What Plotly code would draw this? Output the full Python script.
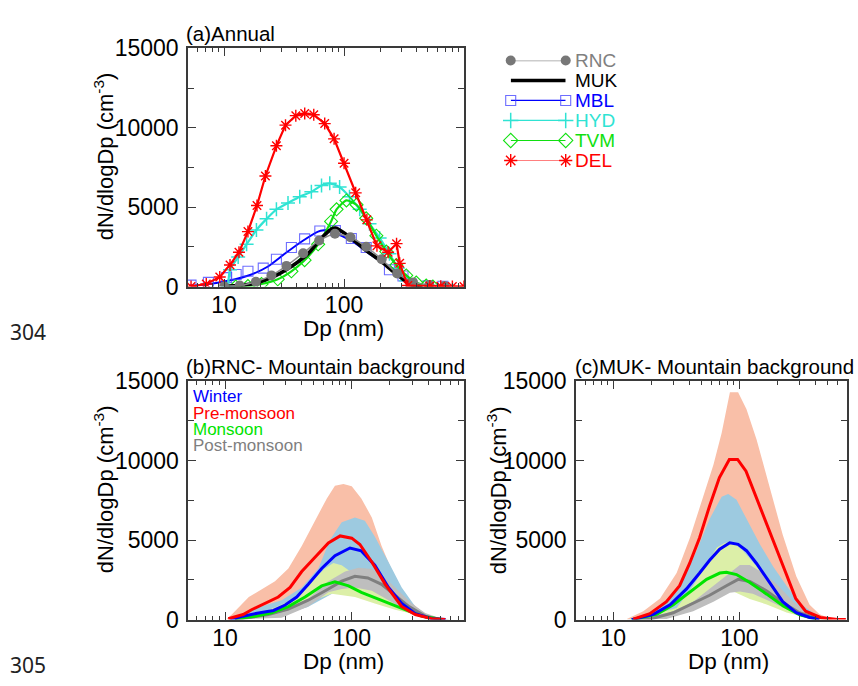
import math
import plotly.graph_objects as go

W, H = 858, 686
FONT = "Liberation Sans, Arial, Helvetica, sans-serif"
AXIS_COLOR = "#3a3a3a"

# ---------------- (a) Annual mean size distributions per site ----------------
RNC_DP = [10, 13.5, 18.4, 24.8, 33.1, 45.6, 62, 84, 113, 153, 206, 277, 376, 513, 689]
RNC_N = [20, 60, 300, 700, 1300, 2100, 2900, 3320, 3100, 2500, 1720, 820, 260, 90, 40]

MUK_DP = [10, 12, 16.9, 24.8, 36.4, 50.1, 64.9, 78.6, 85, 91.8, 119, 153, 198, 256, 310, 376, 450]
MUK_N = [0, 40, 160, 560, 1260, 2060, 3060, 3620, 3680, 3560, 2960, 2260, 1660, 960, 460, 60, 0]

MBL_DP = [5.2, 6.9, 10.8, 16.9, 23.2, 32, 44.1, 60.8, 76, 91.8, 119, 163, 225, 270, 310, 352, 420]
MBL_N = [60, 120, 360, 760, 1260, 2060, 2820, 3460, 3560, 3260, 2820, 2060, 1360, 950, 500, 160, 0]
MBL_PT_DP = [5.3, 7.4, 10.5, 12.6, 15.8, 21.2, 27.3, 36.4, 46.9, 62.8, 84.7, 115, 153, 239, 310, 363, 500, 667]
MBL_PT_N = [90, 260, 560, 760, 960, 1160, 1720, 2460, 3000, 3500, 3520, 3020, 2460, 1060, 660, 160, 40, 20]

HYD_DP = [10.8, 11.2, 13.1, 15.4, 18.6, 22.6, 27.3, 34.1, 42.7, 53.4, 64.9, 76, 91.8,
          111, 135, 163, 198, 239, 281, 330, 400]
HYD_N = [0, 1060, 1860, 2660, 3560, 4260, 4860, 5260, 5660, 5960, 6360, 6500, 6260,
         5660, 4860, 3960, 3060, 2060, 1160, 360, 0]

TVM_DP = [12.5, 15.8, 20.5, 28, 36.4, 46.9, 60.8, 78, 86.6, 104.7, 127, 153, 186, 225,
          273, 330, 400, 484, 550]
TVM_N = [0, 30, 156, 456, 960, 1656, 2658, 4100, 4860, 5420, 5150, 4300, 3200, 2200,
         1350, 700, 250, 60, 0]

DEL_DP = [5.3, 7.1, 9.2, 11.2, 13.3, 15.8, 18.8, 22.1, 27.3, 32.5, 39.6, 47, 55.9, 69,
          82.6, 100, 125, 155, 188, 233, 274, 291, 340, 519, 640, 800, 1000]
DEL_N = [0, 156, 600, 1360, 2160, 3460, 5100, 6960, 8860, 10160, 10760, 10900, 10820,
         10260, 9300, 7760, 5900, 4200, 2560, 2160, 2700, 1460, 60, 30, 20, 0, 0]

# ---------------- (b) RNC seasonal spectra: mean and spread ----------------
RNC_PRE_DP = [10.6, 13.9, 16.2, 20.7, 26.3, 32.6, 40.3, 51.3, 65.4, 81, 100, 116, 144, 184, 248, 317, 428, 547]
RNC_PRE = [60, 320, 620, 1020, 1420, 2020, 3020, 3920, 4820, 5260, 5120, 4720, 3620, 2220, 820, 320, 60, 0]
RNC_PRE_UP_DP = [10.2, 11.3, 15.4, 19.5, 24.8, 31.6, 40.3, 51.3, 63.6, 73.7, 86, 100, 119, 144, 172, 220, 283, 380, 513, 600]
RNC_PRE_UP = [0, 318, 1416, 1920, 2418, 3216, 4620, 6216, 7620, 8418, 8520, 8376, 7620, 6420, 4620, 2616, 1218, 318, 60, 0]
RNC_PRE_LO_DP = [10.2, 16, 25, 40, 63, 100, 160, 250, 400, 600]
RNC_PRE_LO = [0, 200, 500, 1200, 2000, 2300, 1500, 700, 100, 0]

RNC_WIN_DP = [11, 13.9, 18.4, 24.1, 29.8, 36.8, 45.4, 57.9, 73.7, 96.9, 119, 152, 195, 248, 317, 428, 550]
RNC_WIN = [0, 216, 420, 576, 918, 1416, 2220, 3216, 4020, 4500, 4320, 3420, 2016, 1020, 378, 60, 0]
RNC_WIN_UP_DP = [11, 17.3, 28, 40.3, 54.5, 67.4, 83.3, 106, 127, 152, 195, 248, 317, 405, 513, 600]
RNC_WIN_UP = [0, 720, 1218, 2016, 3216, 5016, 6120, 6420, 6216, 5220, 3618, 2016, 816, 216, 60, 0]
RNC_WIN_LO_DP = [11, 20, 30, 45, 65, 100, 150, 230, 350, 500]
RNC_WIN_LO = [0, 150, 350, 800, 1500, 2300, 1800, 800, 200, 0]

RNC_MON_DP = [12, 17.3, 23.3, 31.6, 42.8, 57.9, 73.7, 94.4, 119, 172, 248, 355, 513]
RNC_MON = [60, 216, 420, 816, 1416, 2118, 2376, 2118, 1716, 1218, 720, 216, 0]
RNC_MON_UP_DP = [12, 20.7, 33.6, 47.9, 61.5, 71.6, 83.3, 106, 152, 220, 317, 460, 600]
RNC_MON_UP = [0, 516, 1218, 2418, 3216, 3558, 3420, 2820, 2016, 1218, 516, 120, 0]
RNC_MON_LO_DP = [12, 25, 38, 51.3, 69.5, 106, 152, 220, 317, 460, 600]
RNC_MON_LO = [0, 300, 816, 1218, 1620, 1416, 1020, 618, 318, 60, 0]

RNC_POST_DP = [12, 15.4, 22, 31.6, 45.4, 65.4, 83.3, 106, 134, 172, 220, 283, 380, 513]
RNC_POST = [0, 120, 318, 660, 1218, 1920, 2418, 2718, 2616, 2220, 1518, 816, 216, 0]
RNC_POST_UP_DP = [12, 28, 45.4, 65.4, 88.6, 113, 144, 184, 234, 297, 380, 513, 600]
RNC_POST_UP = [0, 516, 1320, 2418, 3018, 3258, 3180, 2616, 1818, 1020, 420, 60, 0]
RNC_POST_LO_DP = [12, 28, 45.4, 65.4, 83.3, 106, 144, 195, 263, 355, 513]
RNC_POST_LO = [0, 120, 816, 1716, 1920, 2016, 1818, 1218, 618, 216, 0]

# ---------------- (c) MUK seasonal spectra: mean and spread ----------------
MUK_PRE_DP = [14.4, 19.5, 26.4, 33.6, 40.3, 48.3, 58, 69.5, 83.3, 96.9, 113, 135, 162, 195, 234, 280, 336, 403, 440, 600, 700]
MUK_PRE = [30, 372, 1128, 2130, 3528, 5130, 7128, 8928, 10070, 10070, 9330, 7728, 6132, 4530, 2928, 1332, 528, 228, 132, 0, 0]
MUK_PRE_UP_DP = [12.8, 17.3, 23.5, 31.8, 40.5, 51.7, 62.3, 72.4, 84.2, 97.8, 114, 137, 174, 221, 283, 361, 433, 550]
MUK_PRE_UP = [30, 528, 1332, 2928, 5130, 7728, 9732, 11730, 14300, 14300, 13230, 11328, 8328, 5328, 2730, 930, 330, 0]
MUK_PRE_LO_DP = [13, 20, 30, 45, 65, 90, 130, 200, 300, 450]
MUK_PRE_LO = [0, 200, 500, 1100, 2000, 2600, 2000, 900, 250, 0]

MUK_WIN_DP = [14, 20.8, 28.2, 38.1, 48.4, 58.1, 69.8, 84, 97.8, 114, 137, 174, 221, 283, 361, 433]
MUK_WIN = [0, 330, 930, 1932, 2928, 3732, 4428, 4830, 4728, 4332, 3528, 2328, 1128, 432, 132, 30]
MUK_WIN_UP_DP = [13, 17.3, 26.4, 36, 45.8, 58.1, 72.4, 81.6, 95, 114, 146, 186, 237, 302, 385, 433, 520]
MUK_WIN_UP = [0, 228, 1128, 2532, 4332, 6330, 7728, 7890, 7530, 6330, 4728, 3330, 2130, 1032, 432, 228, 0]
MUK_WIN_LO_DP = [14, 20, 30, 45, 65, 90, 130, 200, 300, 450]
MUK_WIN_LO = [0, 150, 450, 1000, 1800, 2300, 1900, 900, 250, 0]

MUK_MON_DP = [14, 22.1, 29.9, 40.5, 55, 70, 79, 95, 121, 165, 223, 302, 410]
MUK_MON = [0, 330, 930, 1728, 2532, 2928, 2970, 2832, 2328, 1600, 850, 300, 30]
MUK_MON_UP_DP = [15, 31.8, 43, 55, 66.3, 77.1, 89.6, 107, 137, 186, 268, 385, 500]
MUK_MON_UP = [0, 732, 2130, 3528, 4530, 4830, 4830, 4332, 3330, 2130, 930, 228, 0]
MUK_MON_LO_DP = [15, 30, 48.4, 69.8, 89.6, 121, 165, 237, 340, 450]
MUK_MON_LO = [0, 500, 1332, 1632, 1770, 1300, 950, 450, 120, 0]

MUK_POST_DP = [15, 19.5, 29.9, 43, 58.1, 79, 97.8, 121, 165, 223, 302, 361, 433]
MUK_POST = [0, 30, 432, 1032, 1530, 2130, 2532, 2400, 1800, 1050, 420, 228, 30]
MUK_POST_UP_DP = [15, 26.4, 43, 62.3, 84.2, 101, 121, 154, 198, 268, 361, 450]
MUK_POST_UP = [0, 330, 1128, 2130, 2928, 3432, 3432, 2928, 2232, 1128, 330, 0]
MUK_POST_LO_DP = [15, 26.4, 43, 62.3, 84.2, 101, 128, 174, 237, 340, 450]
MUK_POST_LO = [0, 30, 528, 1128, 1692, 1770, 1630, 1150, 650, 200, 0]

Y_TICKS = [0, 5000, 10000, 15000]
X_TICKS = [10, 100]
X_MINOR = [m * d for d in (1, 10, 100) for m in range(2, 10)]

# season colours: (line, band)
SEASONS = {
    "Winter": ("#0000FF", "#9DCAE0"),
    "Pre-monsoon": ("#FF0000", "#F9BFA8"),
    "Monsoon": ("#00E400", "#DCEFA8"),
    "Post-monsoon": ("#7F7F7F", "#BEBEBE"),
}

fig = go.Figure()


def px2fx(px):
    return px / W


def px2fy(py):
    return 1 - py / H


# ----- panel (a) -----
def site(dp, n, color, width, symbol=None, msize=9, mcolor=None, mlw=1.2, shape="spline"):
    marker = dict(symbol=symbol, size=msize, color=mcolor or color,
                  line=dict(color=mcolor or color, width=mlw)) if symbol else None
    fig.add_trace(go.Scatter(x=dp, y=n, mode="lines+markers" if symbol else "lines",
                             line=dict(color=color, width=width, shape=shape, smoothing=0.6),
                             marker=marker, xaxis="x", yaxis="y", showlegend=False))


site(MBL_DP, MBL_N, "#0000FF", 2)
fig.add_trace(go.Scatter(x=MBL_PT_DP, y=MBL_PT_N, mode="markers",
                         marker=dict(symbol="square-open", size=10,
                                     color="rgba(60,60,255,0.75)", line=dict(width=1.1)),
                         xaxis="x", yaxis="y", showlegend=False))
site(HYD_DP, HYD_N, "#2FE3D3", 2.2, "cross-thin-open", 10, "#2FE3D3", 1.5)
site(TVM_DP, TVM_N, "#10E010", 2.2, "diamond-open", 10, "#10E010", 1.1)
site(MUK_DP, MUK_N, "#000000", 3.6)
site(RNC_DP, RNC_N, "#8C8C8C", 1.5, "circle", 10, "#777777", 0)
site(DEL_DP, DEL_N, "#FF0000", 2.2, "asterisk-open", 10, "#FF0000", 1.4, shape="linear")


# ----- panels (b), (c) -----
def band(up_dp, up, lo_dp, lo, color, xa, ya):
    fig.add_trace(go.Scatter(x=list(up_dp) + list(lo_dp)[::-1], y=list(up) + list(lo)[::-1],
                             mode="lines", fill="toself", fillcolor=color,
                             line=dict(width=0, color=color), xaxis=xa, yaxis=ya,
                             showlegend=False, hoverinfo="skip"))


def mean_line(dp, n, color, xa, ya):
    fig.add_trace(go.Scatter(x=dp, y=n, mode="lines", line=dict(color=color, width=3),
                             xaxis=xa, yaxis=ya, showlegend=False))


for xa, ya, data in (
    ("x2", "y2", dict(
        pre=(RNC_PRE_DP, RNC_PRE, RNC_PRE_UP_DP, RNC_PRE_UP, RNC_PRE_LO_DP, RNC_PRE_LO),
        win=(RNC_WIN_DP, RNC_WIN, RNC_WIN_UP_DP, RNC_WIN_UP, RNC_WIN_LO_DP, RNC_WIN_LO),
        mon=(RNC_MON_DP, RNC_MON, RNC_MON_UP_DP, RNC_MON_UP, RNC_MON_LO_DP, RNC_MON_LO),
        post=(RNC_POST_DP, RNC_POST, RNC_POST_UP_DP, RNC_POST_UP, RNC_POST_LO_DP, RNC_POST_LO))),
    ("x3", "y3", dict(
        pre=(MUK_PRE_DP, MUK_PRE, MUK_PRE_UP_DP, MUK_PRE_UP, MUK_PRE_LO_DP, MUK_PRE_LO),
        win=(MUK_WIN_DP, MUK_WIN, MUK_WIN_UP_DP, MUK_WIN_UP, MUK_WIN_LO_DP, MUK_WIN_LO),
        mon=(MUK_MON_DP, MUK_MON, MUK_MON_UP_DP, MUK_MON_UP, MUK_MON_LO_DP, MUK_MON_LO),
        post=(MUK_POST_DP, MUK_POST, MUK_POST_UP_DP, MUK_POST_UP, MUK_POST_LO_DP, MUK_POST_LO))),
):
    for k, name in [("pre", "Pre-monsoon"), ("win", "Winter"), ("mon", "Monsoon"), ("post", "Post-monsoon")]:
        d = data[k]
        band(d[2], d[3], d[4], d[5], SEASONS[name][1], xa, ya)
    for k, name in [("post", "Post-monsoon"), ("mon", "Monsoon"), ("win", "Winter"), ("pre", "Pre-monsoon")]:
        d = data[k]
        mean_line(d[0], d[1], SEASONS[name][0], xa, ya)

# ----- legend for (a), drawn on its own small axis -----
LEGEND = [
    ("RNC", "#808080", dict(symbol="circle", size=10, color="#777777"), "#999999", 1.5),
    ("MUK", "#000000", None, "#000000", 3.6),
    ("MBL", "#0000FF", dict(symbol="square-open", size=10, color="rgba(60,60,255,0.75)", line=dict(width=1.1)), "#0000FF", 1.2),
    ("HYD", "#2FE3D3", dict(symbol="cross-thin-open", size=11, color="#2FE3D3", line=dict(width=1.5, color="#2FE3D3")), "#2FE3D3", 1.2),
    ("TVM", "#10E010", dict(symbol="diamond-open", size=11, color="#10E010", line=dict(width=1.1)), "#10E010", 1.2),
    ("DEL", "#FF0000", dict(symbol="asterisk-open", size=11, color="#FF0000", line=dict(width=1.4, color="#FF0000")), "#FF0000", 1.2),
]
LEG_X0, LEG_X1, LEG_Y0, LEG_DY = 510.7, 565.7, 49.3, 20.8
for i, (name, tcol, mk, lcol, lw) in enumerate(LEGEND):
    fig.add_trace(go.Scatter(x=[0, 1], y=[-i, -i], mode="lines+markers" if mk else "lines",
                             line=dict(color=lcol, width=lw), marker=mk, xaxis="x4", yaxis="y4",
                             showlegend=False, cliponaxis=False, hoverinfo="skip"))

annotations = []
for i, (name, tcol, mk, lcol, lw) in enumerate(LEGEND):
    annotations.append(dict(text=name, x=1, y=-i, xref="x4", yref="y4", xshift=8,
                            xanchor="left", yanchor="middle", showarrow=False, borderpad=0,
                            font=dict(family=FONT, size=19, color=tcol)))

# season labels inside (b)
for i, name in enumerate(["Winter", "Pre-monsoon", "Monsoon", "Post-monsoon"]):
    annotations.append(dict(text=name, x=px2fx(192), y=px2fy(399 + i * 17), xref="paper", yref="paper",
                            xanchor="left", yanchor="middle", showarrow=False, borderpad=0,
                            font=dict(family=FONT, size=17, color=SEASONS[name][0])))

# panel titles
for text, xp, yp in (("(a)Annual", 185, 21), ("(b)RNC- Mountain background", 185, 367),
                     ("(c)MUK- Mountain background", 574, 367)):
    annotations.append(dict(text=text, x=px2fx(xp), y=px2fy(yp), xref="paper", yref="paper",
                            xanchor="left", yanchor="middle", showarrow=False, borderpad=0,
                            font=dict(family=FONT, size=20.5, color="black")))

# axis titles
for xp, yp in ((343, 328), (343, 674), (728, 674)):
    annotations.append(dict(text="Dp (nm)", x=px2fx(xp), y=px2fy(yp), xref="paper", yref="paper",
                            xanchor="center", yanchor="middle", showarrow=False, borderpad=0,
                            font=dict(family=FONT, size=22.5, color="black")))
for xp, yp in ((104, 149), (104, 495), (497, 496)):
    annotations.append(dict(text="dN/dlogDp (cm<sup>-3</sup>)", x=px2fx(xp), y=px2fy(yp),
                            xref="paper", yref="paper", textangle=-90, borderpad=0,
                            xanchor="center", yanchor="middle", showarrow=False,
                            font=dict(family=FONT, size=22, color="black")))

# manuscript line numbers
for text, yp in (("304", 332), ("305", 678)):
    annotations.append(dict(text=text, x=px2fx(9), y=px2fy(yp), xref="paper", yref="paper",
                            xanchor="left", yanchor="middle", showarrow=False, borderpad=0,
                            font=dict(family="Noto Sans, sans-serif", size=21, color="#222222")))


def xaxis(dom, rng, anchor):
    return dict(type="log", domain=dom, range=rng, anchor=anchor, showline=True,
                linecolor=AXIS_COLOR, linewidth=1.6, mirror="ticks", ticks="inside",
                ticklen=8, tickwidth=1.3, tickcolor=AXIS_COLOR,
                tickmode="array", tickvals=X_TICKS, ticktext=[str(v) for v in X_TICKS],
                minor=dict(ticks="inside", ticklen=4, tickwidth=1.1, tickcolor=AXIS_COLOR,
                           tickmode="array", tickvals=X_MINOR),
                tickfont=dict(family=FONT, size=23, color="black"), ticklabelstandoff=-3,
                showgrid=False, zeroline=False)


def yaxis(dom, anchor):
    return dict(domain=dom, range=[0, 15000], anchor=anchor, showline=True,
                linecolor=AXIS_COLOR, linewidth=1.6, mirror="ticks", ticks="inside",
                ticklen=8, tickwidth=1.3, tickcolor=AXIS_COLOR,
                tickmode="array", tickvals=Y_TICKS, ticktext=[str(v) for v in Y_TICKS],
                minor=dict(ticks="inside", ticklen=6, tickwidth=1.1, tickcolor=AXIS_COLOR, dtick=2500),
                tickfont=dict(family=FONT, size=23, color="black"), ticklabelstandoff=3,
                showgrid=False, zeroline=False)


A_DOM_Y = [px2fy(284.3), px2fy(36.7)]
B_DOM_Y = [px2fy(630.5), px2fy(382.5)]
n_leg = len(LEGEND)

fig.update_layout(
    width=W, height=H, margin=dict(l=0, r=0, t=0, b=0),
    paper_bgcolor="white", plot_bgcolor="white",
    showlegend=False,
    xaxis=xaxis([px2fx(188), px2fx(464)], [math.log10(5), 3.0], "y"),
    yaxis=yaxis(A_DOM_Y, "x"),
    xaxis2=xaxis([px2fx(188.3), px2fx(464)], [0.71, 2.886], "y2"),
    yaxis2=yaxis(B_DOM_Y, "x2"),
    xaxis3=xaxis([px2fx(576), px2fx(846.7)], [0.704, 2.852], "y3"),
    yaxis3=yaxis(B_DOM_Y, "x3"),
    xaxis4=dict(domain=[px2fx(LEG_X0), px2fx(LEG_X1)], range=[0, 1], anchor="y4", visible=False),
    yaxis4=dict(domain=[px2fy(LEG_Y0 + (n_leg - 1) * LEG_DY), px2fy(LEG_Y0)],
                range=[-(n_leg - 1), 0], anchor="x4", visible=False),
    annotations=annotations,
)

fig.write_html("out.html")
